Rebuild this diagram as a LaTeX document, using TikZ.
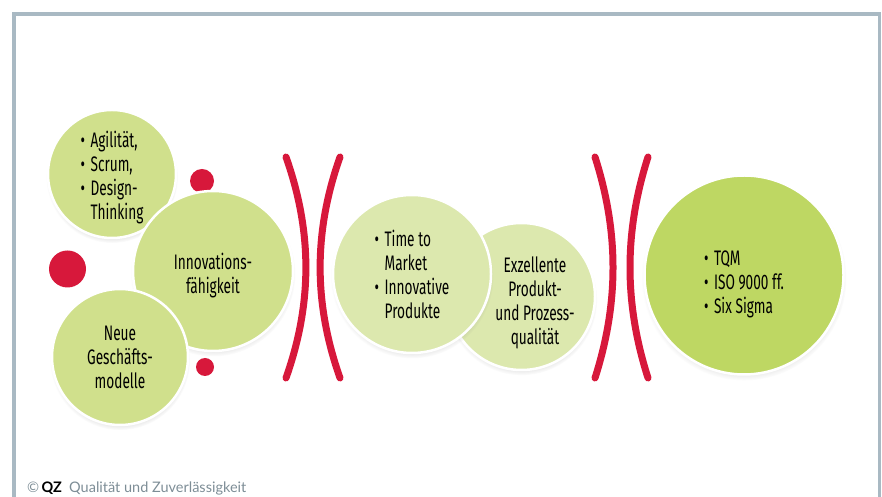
\documentclass[tikz,border=0pt]{standalone}
\usepackage{fontspec}
\setmainfont{Fira Sans}[FakeStretch=0.65]
\newfontfamily\footfont{Lato}
\usetikzlibrary{shadows}

\definecolor{qzred}{HTML}{D7183B}
\definecolor{qzframe}{HTML}{A9B9C3}
\definecolor{qzgray}{HTML}{7D8D96}
\definecolor{greenA}{HTML}{D0E08C}
\definecolor{greenB}{HTML}{DCE8AE}
\definecolor{greenC}{HTML}{BED763}

\newcommand{\bul}{\makebox[10pt][l]{\textbullet}}
\newcommand{\nobul}{\hspace*{10pt}}

\begin{document}
\begin{tikzpicture}[x=1pt, y=1pt,
  bubble/.style={circle, draw=white, line width=2.5pt, inner sep=0pt,
    circular drop shadow={shadow scale=1.03, shadow xshift=0pt, shadow yshift=-3pt, opacity=0.35},
    font=\fontsize{21}{24}\selectfont, align=center},
  txt/.style={font=\fontsize{21}{24}\selectfont, align=center},
  dot/.style={circle, fill=qzred, inner sep=0pt},
  bracket/.style={qzred, line width=7pt, line cap=round}]
\useasboundingbox (0,0) rectangle (882,497);
\draw[qzframe, line width=3.5pt] (14,0) -- (14,483) -- (879.5,483) -- (879.5,0);

% left group
\node[bubble, fill=greenA, minimum size=128pt] (agil) at (112,323) {};
\node[txt, align=left] (agiltext) at ([yshift=-4pt]agil.center)
  {\bul Agilität,\\ \bul Scrum,\\ \bul Design-\\ \nobul Thinking};
\node[dot, minimum size=37pt] (dotL) at (67.5,228) {};
\node[dot, minimum size=24pt] (dotT) at (202,316) {};
\node[dot, minimum size=18pt] (dotB) at (205,130) {};
\node[bubble, fill=greenA, minimum size=160pt] (innov) at (213,226) {};
\node[txt] (innovtext) at ([yshift=-5pt]innov.center) {Innovations-\\fähigkeit};
\node[bubble, fill=greenA, minimum size=136pt] (neue) at (120,140)
  {Neue\\Geschäfts-\\modelle};

% middle group
\node[bubble, fill=greenB, minimum size=147pt] (exz) at (521.5,200.5) {};
\node[txt] (exztext) at (535,194) {Exzellente\\Produkt-\\und Prozess-\\qualität};
\node[bubble, fill=greenB, minimum size=158pt, align=left] (time) at (412,223)
  {\bul Time to\\ \nobul Market\\ \bul Innovative\\ \nobul Produkte};

% right group
\node[bubble, fill=greenC, minimum size=199pt] (tqm) at (744,222) {};
\node[txt, align=left] (tqmtext) at ([yshift=-9pt]tqm.center)
  {\bul TQM\\ \bul ISO 9000 ff.\\ \bul Six Sigma};

\draw[bracket] (286,340) .. controls (312.5,265) and (312.5,194) .. (286,119);
\draw[bracket] (340,340) .. controls (313.5,265) and (313.5,194) .. (340,119);
\draw[bracket] (595,340) .. controls (619,265) and (619,194) .. (595,119);
\draw[bracket] (648,340) .. controls (624,265) and (624,194) .. (648,119);

\node[anchor=base west, text=qzgray, font=\footfont\fontsize{14.5}{16}\selectfont, inner sep=0pt] (credit) at (27,4)
  {©\,\textcolor{black}{\textbf{QZ}}\enspace Qualität und Zuverlässigkeit};
\end{tikzpicture}
\end{document}
